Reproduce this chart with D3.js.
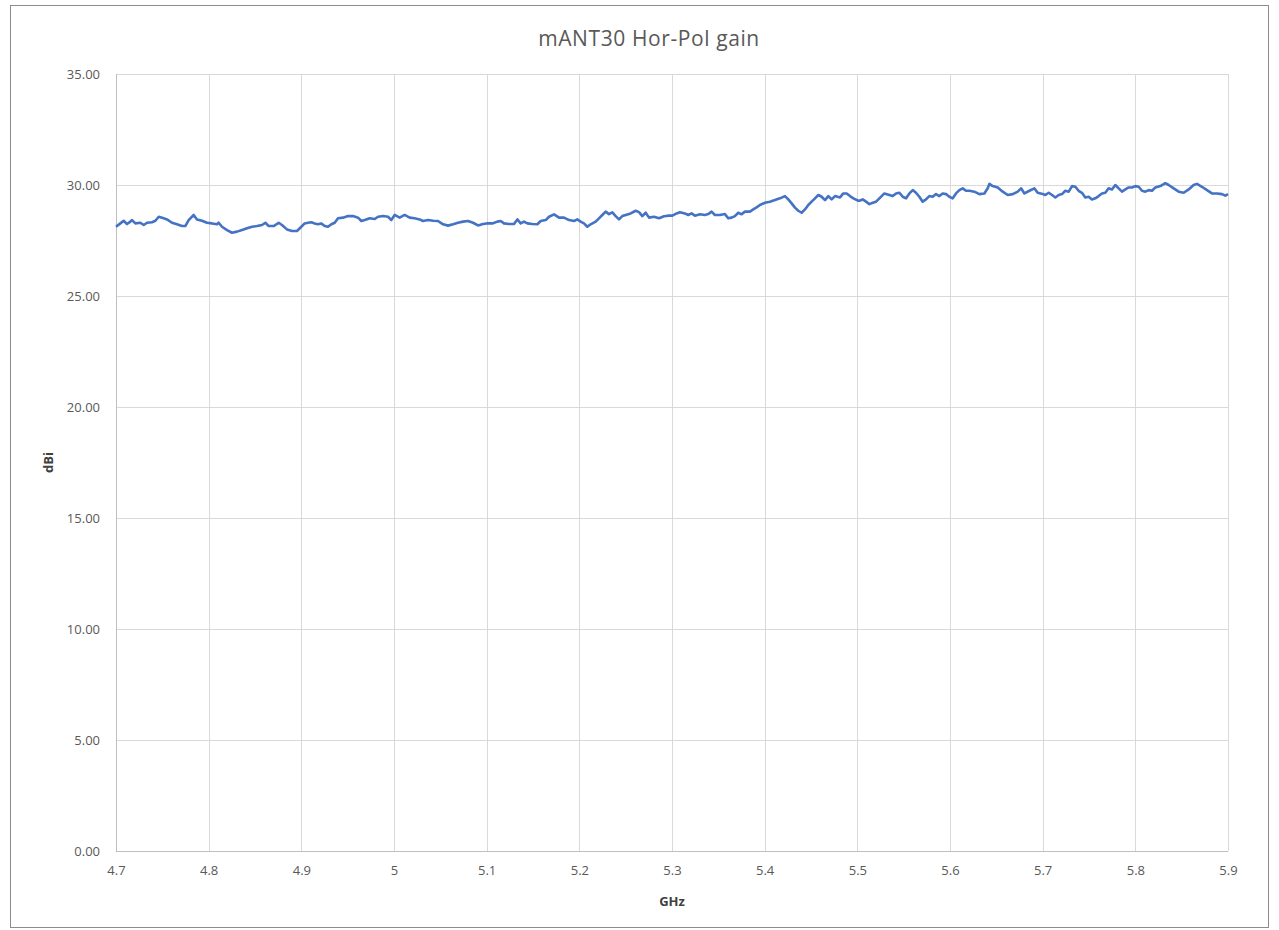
<!DOCTYPE html>
<html>
<head>
<meta charset="utf-8">
<script src="https://cdn.jsdelivr.net/npm/d3@7"></script>
<style>
  body { margin: 0; background: #fff; }
  svg text { font-family: "Open Sans", "Liberation Sans", sans-serif; }
</style>
</head>
<body>
<div id="chart"></div>
<script>
// frequency (GHz) and gain (dBi)
const freq = [
  4.7000, 4.7047, 4.7083, 4.7119, 4.7155, 4.7173, 4.7209, 4.7263, 4.7299, 4.7335,
  4.7389, 4.7425, 4.7461, 4.7515, 4.7550, 4.7604, 4.7658, 4.7712, 4.7748, 4.7784,
  4.7838, 4.7874, 4.7928, 4.7982, 4.8036, 4.8090, 4.8108, 4.8144, 4.8198, 4.8252,
  4.8306, 4.8360, 4.8414, 4.8468, 4.8522, 4.8576, 4.8612, 4.8648, 4.8702, 4.8756,
  4.8791, 4.8845, 4.8899, 4.8953, 4.9000,
  4.9036, 4.9072, 4.9108, 4.9144, 4.9180, 4.9216, 4.9252, 4.9288, 4.9324, 4.9360,
  4.9396, 4.9450, 4.9504, 4.9558, 4.9612, 4.9648, 4.9684, 4.9738, 4.9792, 4.9828,
  4.9882, 4.9936, 4.9971, 5.0007, 5.0061, 5.0115, 5.0169, 5.0223, 5.0277, 5.0313,
  5.0367, 5.0421, 5.0475, 5.0529, 5.0583, 5.0637, 5.0691, 5.0745, 5.0799, 5.0853,
  5.0907, 5.0961, 5.1000,
  5.1061, 5.1115, 5.1151, 5.1187, 5.1241, 5.1295, 5.1331, 5.1367, 5.1403, 5.1439,
  5.1493, 5.1547, 5.1583, 5.1637, 5.1673, 5.1727, 5.1781, 5.1835, 5.1889, 5.1943,
  5.1978, 5.2014, 5.2050, 5.2086, 5.2122, 5.2176, 5.2212, 5.2248, 5.2284, 5.2320,
  5.2356, 5.2392, 5.2428, 5.2464, 5.2500, 5.2554, 5.2608, 5.2644, 5.2680, 5.2716,
  5.2752, 5.2806, 5.2860, 5.2914, 5.2968, 5.3004,
  5.3050, 5.3085, 5.3139, 5.3175, 5.3211, 5.3247, 5.3301, 5.3355, 5.3391, 5.3427,
  5.3463, 5.3517, 5.3571, 5.3607, 5.3643, 5.3679, 5.3715, 5.3751, 5.3787, 5.3841,
  5.3877, 5.3913, 5.3949, 5.4003, 5.4057, 5.4111, 5.4165, 5.4219, 5.4255, 5.4291,
  5.4327, 5.4363, 5.4399, 5.4435, 5.4471, 5.4507, 5.4543, 5.4579, 5.4615, 5.4651,
  5.4687, 5.4723, 5.4759, 5.4813, 5.4849, 5.4885, 5.4921, 5.4957, 5.5011,
  5.5022, 5.5058, 5.5094, 5.5130, 5.5166, 5.5202, 5.5238, 5.5292, 5.5346, 5.5382,
  5.5418, 5.5454, 5.5490, 5.5526, 5.5562, 5.5598, 5.5633, 5.5669, 5.5705, 5.5741,
  5.5777, 5.5813, 5.5849, 5.5885, 5.5921, 5.5957, 5.5993, 5.6029, 5.6065, 5.6101,
  5.6137, 5.6173, 5.6209, 5.6263, 5.6317, 5.6371, 5.6407, 5.6425, 5.6461, 5.6515,
  5.6569, 5.6623, 5.6677, 5.6731, 5.6767, 5.6803, 5.6857, 5.6910, 5.6946, 5.7000,
  5.7029, 5.7065, 5.7101, 5.7137, 5.7173, 5.7209, 5.7245, 5.7281, 5.7317, 5.7353,
  5.7388, 5.7424, 5.7460, 5.7496, 5.7532, 5.7568, 5.7604, 5.7640, 5.7676, 5.7712,
  5.7748, 5.7784, 5.7820, 5.7856, 5.7892, 5.7928, 5.7964, 5.8000, 5.8036, 5.8072,
  5.8108, 5.8144, 5.8180, 5.8216, 5.8270, 5.8324, 5.8360, 5.8414, 5.8468, 5.8522,
  5.8576, 5.8629, 5.8665, 5.8719, 5.8773, 5.8827, 5.8881, 5.8935, 5.8971, 5.9000
];
const gain = [
  28.12, 28.27, 28.39, 28.24, 28.35, 28.42, 28.27, 28.30, 28.20, 28.30,
  28.32, 28.39, 28.57, 28.50, 28.45, 28.30, 28.23, 28.15, 28.15, 28.42,
  28.65, 28.45, 28.39, 28.30, 28.27, 28.23, 28.30, 28.12, 27.97, 27.85,
  27.90, 27.97, 28.05, 28.12, 28.15, 28.20, 28.30, 28.15, 28.15, 28.30,
  28.20, 28.00, 27.93, 27.93, 28.12,
  28.27, 28.30, 28.32, 28.27, 28.23, 28.27, 28.15, 28.12, 28.23, 28.30,
  28.50, 28.53, 28.60, 28.60, 28.53, 28.38, 28.42, 28.50, 28.47, 28.57,
  28.60, 28.57, 28.42, 28.65, 28.53, 28.65, 28.53, 28.50, 28.45, 28.38,
  28.42, 28.39, 28.38, 28.23, 28.17, 28.23, 28.30, 28.35, 28.38, 28.30,
  28.18, 28.24, 28.27,
  28.27, 28.35, 28.38, 28.27, 28.24, 28.24, 28.45, 28.27, 28.35, 28.27,
  28.24, 28.23, 28.38, 28.42, 28.57, 28.68, 28.53, 28.53, 28.42, 28.38,
  28.45, 28.35, 28.27, 28.12, 28.23, 28.35, 28.50, 28.65, 28.80, 28.69,
  28.77, 28.60, 28.45, 28.60, 28.65, 28.72, 28.84, 28.78, 28.60, 28.75,
  28.53, 28.57, 28.50, 28.59, 28.62, 28.62,
  28.72, 28.77, 28.72, 28.65, 28.72, 28.62, 28.68, 28.65, 28.69, 28.80,
  28.65, 28.65, 28.69, 28.50, 28.53, 28.60, 28.75, 28.68, 28.80, 28.80,
  28.90, 28.99, 29.10, 29.20, 29.25, 29.32, 29.40, 29.50, 29.35, 29.17,
  28.98, 28.84, 28.75, 28.90, 29.10, 29.25, 29.40, 29.55, 29.47, 29.32,
  29.50, 29.35, 29.50, 29.44, 29.62, 29.62, 29.50, 29.40, 29.29,
  29.29, 29.35, 29.25, 29.14, 29.20, 29.25, 29.40, 29.62, 29.55, 29.50,
  29.62, 29.65, 29.47, 29.40, 29.62, 29.77, 29.65, 29.47, 29.25, 29.35,
  29.50, 29.47, 29.59, 29.50, 29.62, 29.59, 29.47, 29.40, 29.62, 29.77,
  29.85, 29.74, 29.74, 29.70, 29.59, 29.62, 29.85, 30.05, 29.95, 29.89,
  29.70, 29.55, 29.59, 29.70, 29.85, 29.62, 29.74, 29.85, 29.65, 29.59,
  29.55, 29.65, 29.55, 29.44, 29.55, 29.59, 29.74, 29.70, 29.95, 29.92,
  29.74, 29.65, 29.44, 29.47, 29.35, 29.40, 29.50, 29.62, 29.65, 29.85,
  29.80, 30.00, 29.85, 29.70, 29.80, 29.89, 29.89, 29.95, 29.92, 29.74,
  29.70, 29.77, 29.74, 29.89, 29.95, 30.08, 30.00, 29.85, 29.70, 29.65,
  29.80, 30.00, 30.05, 29.92, 29.77, 29.62, 29.62, 29.59, 29.52, 29.59
];
const xTicks = [4.7, 4.8, 4.9, 5.0, 5.1, 5.2, 5.3, 5.4, 5.5, 5.6, 5.7, 5.8, 5.9];
const yTicks = [0, 5, 10, 15, 20, 25, 30, 35];

makeChart();

function makeChart() {
  const W = 1279, H = 930;
  const margin = {top: 74, right: 51, bottom: 79, left: 116},
    width = W - margin.left - margin.right,
    height = H - margin.top - margin.bottom;

  const root = d3.select("#chart")
    .append("svg")
    .attr("width", W)
    .attr("height", H);

  // chart border
  root.append("rect")
    .attr("x", 10.5).attr("y", 5.5)
    .attr("width", 1258).attr("height", 922)
    .attr("fill", "#fff")
    .attr("stroke", "#8c8c8c");

  const svg = root.append("g")
    .attr("transform", `translate(${margin.left}, ${margin.top})`);

  const x = d3.scaleLinear().domain([4.7, 5.9]).range([0, width]);
  const y = d3.scaleLinear().domain([0, 35]).range([height, 0]);

  // gridlines
  svg.append("g")
    .selectAll("line.v")
    .data(xTicks)
    .join("line")
    .attr("x1", d => Math.round(x(d)) + 0.5)
    .attr("x2", d => Math.round(x(d)) + 0.5)
    .attr("y1", 0).attr("y2", height)
    .attr("stroke", "#d9d9d9");
  svg.append("g")
    .selectAll("line.h")
    .data(yTicks)
    .join("line")
    .attr("y1", d => Math.round(y(d)) + 0.5)
    .attr("y2", d => Math.round(y(d)) + 0.5)
    .attr("x1", 0).attr("x2", width)
    .attr("stroke", "#d9d9d9");

  // axis lines
  svg.append("line")
    .attr("x1", 0).attr("x2", width)
    .attr("y1", height + 0.5).attr("y2", height + 0.5)
    .attr("stroke", "#bfbfbf");
  svg.append("line")
    .attr("x1", 0.5).attr("x2", 0.5)
    .attr("y1", 0).attr("y2", height)
    .attr("stroke", "#bfbfbf");

  // axes (labels only)
  const xAxis = svg.append("g")
    .attr("transform", `translate(0, ${height})`)
    .call(d3.axisBottom(x).tickValues(xTicks).tickSize(0).tickPadding(15)
      .tickFormat(d => d3.format("")(+d.toFixed(1))));
  const yAxis = svg.append("g")
    .call(d3.axisLeft(y).tickValues(yTicks).tickSize(0).tickPadding(16)
      .tickFormat(d3.format(".2f")));
  [xAxis, yAxis].forEach(a => {
    a.select(".domain").remove();
    a.selectAll("text")
      .style("font-family", "'Open Sans', sans-serif")
      .style("font-size", "13px")
      .attr("fill", "#595959");
  });

  // the line
  const pts = freq.map((f, i) => [f, gain[i]]);
  svg.append("path")
    .datum(pts)
    .attr("fill", "none")
    .attr("stroke", "#4472c4")
    .attr("stroke-width", 2.6)
    .attr("stroke-linejoin", "round")
    .attr("d", d3.line().x(d => x(d[0])).y(d => y(d[1])));

  // title
  root.append("text")
    .attr("x", 649)
    .attr("y", 46)
    .attr("text-anchor", "middle")
    .style("font-size", "21px")
    .style("letter-spacing", "0.6px")
    .attr("fill", "#595959")
    .text("mANT30 Hor-Pol gain");

  // axis titles
  root.append("text")
    .attr("x", margin.left + width / 2)
    .attr("y", 906)
    .attr("text-anchor", "middle")
    .style("font-size", "13px")
    .style("font-weight", "bold")
    .attr("fill", "#404040")
    .text("GHz");
  root.append("text")
    .attr("transform", `translate(53, ${margin.top + height / 2}) rotate(-90)`)
    .attr("text-anchor", "middle")
    .style("font-size", "13px")
    .style("font-weight", "bold")
    .attr("fill", "#404040")
    .text("dBi");
}
</script>
</body>
</html>
